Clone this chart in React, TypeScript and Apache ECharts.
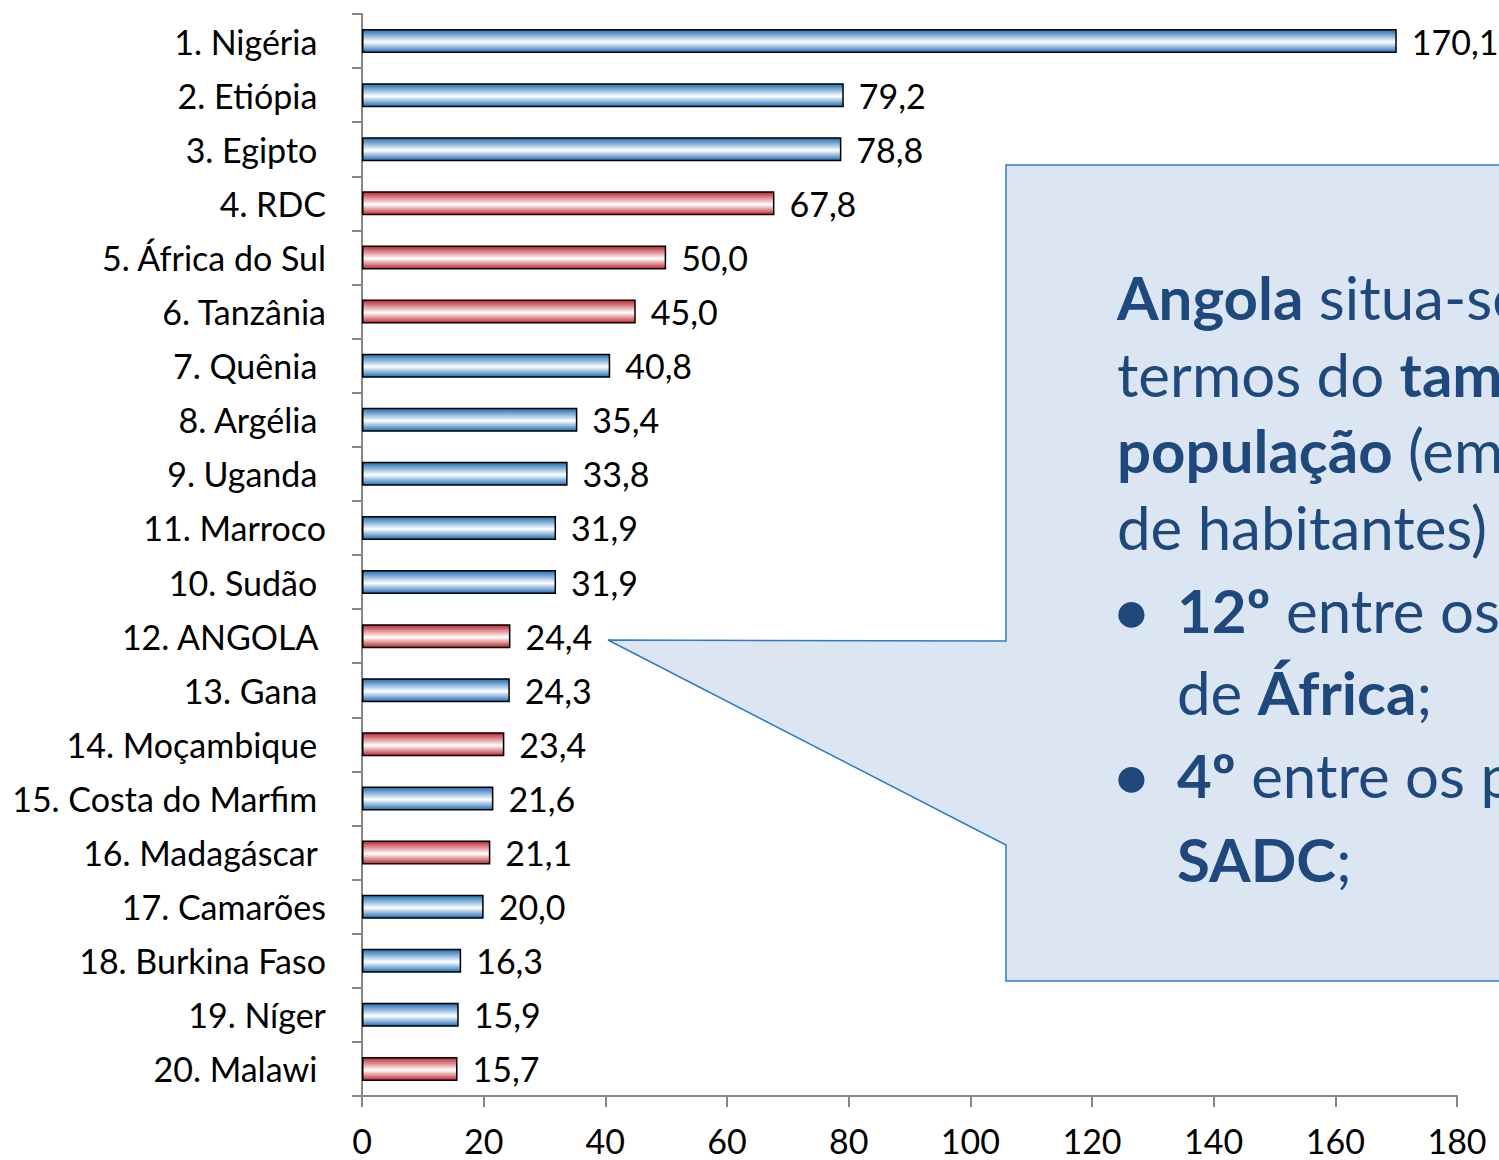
import React, { useEffect, useRef } from "react";
import * as echarts from "echarts";

const countries = [
  "1. Nigéria ",
  "2. Etiópia ",
  "3. Egipto ",
  "4. RDC",
  "5. África do Sul",
  "6. Tanzânia",
  "7. Quênia ",
  "8. Argélia ",
  "9. Uganda ",
  "11. Marroco",
  "10. Sudão ",
  "12. ANGOLA ",
  "13. Gana ",
  "14. Moçambique ",
  "15. Costa do Marfim ",
  "16. Madagáscar ",
  "17. Camarões",
  "18. Burkina Faso",
  "19. Níger",
  "20. Malawi ",
];

const population = [170.1, 79.2, 78.8, 67.8, 50.0, 45.0, 40.8, 35.4, 33.8, 31.9, 31.9, 24.4, 24.3, 23.4, 21.6, 21.1, 20.0, 16.3, 15.9, 15.7];

// SADC members shown in red
const sadc = [false, false, false, true, true, true, false, false, false, false, false, true, false, true, false, true, false, false, false, true];

const xTicks = [0, 20, 40, 60, 80, 100, 120, 140, 160, 180];

const FONT = "Lato, 'Open Sans', sans-serif";
const NAVY = "#1f497d";
const FS = 34;
const CFS = 60;

const grad = (c: string) =>
  new echarts.graphic.LinearGradient(0, 0, 0, 1, [
    { offset: 0, color: c },
    { offset: 0.55, color: "#ffffff" },
    { offset: 1, color: c },
  ]);

export default function App() {
  const ref = useRef<HTMLDivElement>(null);
  useEffect(() => {
    if (!ref.current) return;
    const chart = echarts.init(ref.current, undefined, { renderer: "svg" });
    const rich = {
      b: { fontFamily: FONT, fontSize: CFS, fontWeight: "bold", fill: NAVY, color: NAVY },
      n: { fontFamily: FONT, fontSize: CFS, fontWeight: "normal", fill: NAVY, color: NAVY },
    };
    const line = (text: string, x: number, baseline: number) => ({
      type: "text",
      x,
      y: baseline - 23,
      z: 20,
      style: {
        text,
        rich,
        fontFamily: FONT,
        fontSize: CFS,
        fill: NAVY,
        verticalAlign: "middle",
        align: "left",
      },
    });
    chart.setOption({
      animation: false,
      grid: { left: 362, right: 42, top: 14, bottom: 64, containLabel: false },
      xAxis: {
        type: "value",
        min: 0,
        max: 180,
        interval: 20,
        splitLine: { show: false },
        axisLine: { show: true, lineStyle: { color: "#868686", width: 2 } },
        axisTick: { show: true, length: 11, lineStyle: { color: "#868686", width: 2 } },
        axisLabel: {
          margin: 30,
          lineHeight: 28,
          fontFamily: FONT,
          fontSize: FS,
          color: "#000",
          formatter: (v: number) => (xTicks.includes(v) ? String(v) : ""),
        },
      },
      yAxis: {
        type: "category",
        data: countries,
        inverse: true,
        axisLine: { show: true, lineStyle: { color: "#868686", width: 2 } },
        axisTick: { show: true, length: 10, lineStyle: { color: "#868686", width: 2 } },
        axisLabel: { margin: 36, fontFamily: FONT, fontSize: FS, color: "#000" },
      },
      series: [
        {
          type: "bar",
          barWidth: 24,
          data: population.map((v, i) => ({
            value: v,
            itemStyle: {
              color: grad(sadc[i] ? "#c0262e" : "#1f6db6"),
              borderColor: "#000",
              borderWidth: 1.5,
            },
          })),
          label: {
            show: true,
            position: "right",
            distance: 15,
            fontFamily: FONT,
            fontSize: FS,
            color: "#000",
            formatter: (p: any) => p.value.toFixed(1).replace(".", ","),
          },
        },
      ],
      graphic: [
        {
          type: "polygon",
          z: 10,
          shape: {
            points: [
              [1006, 165],
              [1530, 165],
              [1530, 981],
              [1006, 981],
              [1006, 845],
              [608, 640],
              [1006, 641],
            ],
          },
          style: { fill: "#dce6f2", stroke: "#2e7bc4", lineWidth: 1.5 },
        },
        line("{b|Angola} situa-se em", 1117, 320),
        line("termos do {b|tamanho da}", 1117, 397),
        line("{b|população} (em milhões", 1117, 473),
        line("de habitantes)", 1117, 550),
        line("{b|•}", 1114, 633),
        line("{b|12º} entre os países", 1177, 633),
        line("de {b|África};", 1177, 715),
        line("{b|•}", 1114, 798),
        line("{b|4º} entre os países da", 1177, 798),
        line("{b|SADC};", 1177, 882),
      ],
    });
    return () => chart.dispose();
  }, []);
  return (
    <div
      ref={ref}
      style={{ position: "absolute", left: 0, top: 0, width: 1499, height: 1160, background: "#fff" }}
    />
  );
}
